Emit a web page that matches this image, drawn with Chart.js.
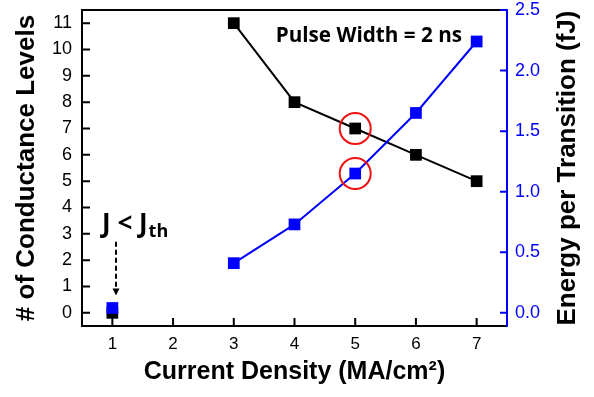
<!DOCTYPE html>
<html>
<head>
<meta charset="utf-8">
<script src="https://cdn.jsdelivr.net/npm/chart.js@4/dist/chart.umd.min.js"></script>
<style>
html,body{margin:0;padding:0;background:#fff;}
#wrap{width:594px;height:397px;}
</style>
</head>
<body>
<div id="wrap"><canvas id="c" width="594" height="397"></canvas></div>
<script>
// ---- data ----
const currentDensity = [1, 3, 4, 5, 6, 7];
const conductanceLevels = [0, 11, 8, 7, 6, 5];
const energyPerTransition = [0.04, 0.41, 0.73, 1.15, 1.65, 2.24];
const xTickValues = [1, 2, 3, 4, 5, 6, 7];
const yTickValues = [0, 1, 2, 3, 4, 5, 6, 7, 8, 9, 10, 11];
const y1TickValues = [0, 0.5, 1.0, 1.5, 2.0, 2.5];
const highlightX = 5;
const rightTitle = 'Energy per Transition (fJ)';

// build point lists with a gap between x=1 and x=3 (no connecting line)
function buildPoints(xs, ys) {
  const pts = [];
  xs.forEach((x, i) => {
    if (i > 0 && x - xs[i - 1] > 1) pts.push({x: (x + xs[i - 1]) / 2, y: null});
    pts.push({x: x, y: ys[i]});
  });
  return pts;
}

function noPad(s) { s.paddingTop = 0; s.paddingBottom = 0; s.paddingLeft = 0; s.paddingRight = 0; }

const BLUE = '#0000ff';
const decor = {
  id: 'decor',
  afterDatasetsDraw(chart) {
    const ctx = chart.ctx;
    const a = chart.chartArea;
    const sx = chart.scales.x, sy = chart.scales.y, sy1 = chart.scales.y1;
    ctx.save();
    // frame
    ctx.lineWidth = 2;
    ctx.strokeStyle = '#000';
    ctx.beginPath();
    ctx.moveTo(a.right, a.top); ctx.lineTo(a.left, a.top);
    ctx.lineTo(a.left, a.bottom); ctx.lineTo(a.right, a.bottom);
    ctx.stroke();
    ctx.strokeStyle = BLUE;
    ctx.beginPath(); ctx.moveTo(a.right, a.top - 1); ctx.lineTo(a.right, a.bottom + 1); ctx.stroke();
    // inward ticks
    ctx.strokeStyle = '#000';
    ctx.beginPath();
    yTickValues.forEach(v => { const p = sy.getPixelForValue(v); ctx.moveTo(a.left, p); ctx.lineTo(a.left + 8, p); });
    xTickValues.forEach(v => { const p = sx.getPixelForValue(v); ctx.moveTo(p, a.bottom); ctx.lineTo(p, a.bottom - 8); });
    ctx.stroke();
    ctx.strokeStyle = BLUE;
    ctx.beginPath();
    y1TickValues.forEach(v => { const p = sy1.getPixelForValue(v); ctx.moveTo(a.right, p); ctx.lineTo(a.right - 7, p); });
    ctx.stroke();
    // red circles
    const i5 = currentDensity.indexOf(highlightX);
    ctx.strokeStyle = '#ee1111';
    ctx.lineWidth = 2;
    const cx = sx.getPixelForValue(highlightX);
    [[sy, conductanceLevels[i5]], [sy1, energyPerTransition[i5]]].forEach(([s, v]) => {
      ctx.beginPath(); ctx.arc(cx, s.getPixelForValue(v), 15.5, 0, Math.PI * 2); ctx.stroke();
    });
    // annotation text
    ctx.fillStyle = '#000';
    ctx.textBaseline = 'alphabetic';
    ctx.textAlign = 'left';
    ctx.font = 'bold 20.7px "Open Sans"';
    ctx.fillText('Pulse Width = 2 ns', sx.getPixelForValue(3.69), sy.getPixelForValue(10.3));
    const jx = sx.getPixelForValue(0.83), jy = sy.getPixelForValue(3.07);
    ctx.font = 'bold 26px "Open Sans"';
    const s1 = 'J < J';
    ctx.fillText(s1, jx, jy);
    const w1 = ctx.measureText(s1).width;
    ctx.font = 'bold 18px "Open Sans"';
    ctx.fillText('th', jx + w1 + 1, jy + 5);
    // dashed arrow
    const ax = sx.getPixelForValue(1.06);
    ctx.strokeStyle = '#000';
    ctx.lineWidth = 2;
    ctx.setLineDash([5, 3]);
    ctx.beginPath(); ctx.moveTo(ax, sy.getPixelForValue(2.7)); ctx.lineTo(ax, sy.getPixelForValue(0.95)); ctx.stroke();
    ctx.setLineDash([]);
    const tip = sy.getPixelForValue(0.66);
    ctx.beginPath(); ctx.moveTo(ax - 3.5, tip - 7); ctx.lineTo(ax + 3.5, tip - 7); ctx.lineTo(ax, tip); ctx.closePath(); ctx.fill();
    // right axis title, reading bottom-to-top
    ctx.translate(sy1.right - 26, (a.top + a.bottom) / 2);
    ctx.rotate(-Math.PI / 2);
    ctx.textAlign = 'center';
    ctx.textBaseline = 'middle';
    ctx.font = 'bold 26px "Liberation Sans", Arial';
    ctx.fillText(rightTitle, 0, 0);
    ctx.restore();
  }
};

new Chart(document.getElementById('c'), {
  type: 'line',
  data: {
    datasets: [
      {
        label: 'Energy per Transition',
        data: buildPoints(currentDensity, energyPerTransition),
        yAxisID: 'y1',
        borderColor: BLUE, backgroundColor: BLUE,
        borderWidth: 2, pointStyle: 'rect', pointRadius: 8.3, pointBorderWidth: 0,
        spanGaps: false, tension: 0
      },
      {
        label: '# of Conductance Levels',
        data: buildPoints(currentDensity, conductanceLevels),
        yAxisID: 'y',
        borderColor: '#000', backgroundColor: '#000',
        borderWidth: 2, pointStyle: 'rect', pointRadius: 8.3, pointBorderWidth: 0,
        spanGaps: false, tension: 0
      }
    ]
  },
  options: {
    responsive: false, animation: false, devicePixelRatio: 1,
    layout: {padding: {top: 10, left: 0, right: 0, bottom: 0}, autoPadding: false},
    plugins: {legend: {display: false}, tooltip: {enabled: false}},
    scales: {
      x: {
        type: 'linear', min: 0.5, max: 7.5,
        afterBuildTicks: s => { s.ticks = xTickValues.map(v => ({value: v})); },
        afterFit: s => { s.height = 71; noPad(s); },
        grid: {display: false, drawTicks: false}, border: {display: false},
        ticks: {color: '#000', font: {family: '"Liberation Sans", Arial', size: 17}, padding: 8, maxRotation: 0},
        title: {display: true, text: 'Current Density (MA/cm²)', color: '#000',
          font: {family: '"Liberation Sans", Arial', size: 25, weight: 'bold', lineHeight: 1.2}, padding: {top: 0, bottom: 10}}
      },
      y: {
        position: 'left', min: -0.5, max: 11.5,
        afterBuildTicks: s => { s.ticks = yTickValues.map(v => ({value: v})); },
        afterFit: s => { s.width = 82; noPad(s); },
        grid: {display: false, drawTicks: false}, border: {display: false},
        ticks: {color: '#000', font: {family: '"Liberation Sans", Arial', size: 18}, padding: 10},
        title: {display: true, text: '# of Conductance Levels', color: '#000',
          font: {family: '"Liberation Sans", Arial', size: 26, weight: 'bold', lineHeight: 1.2}, padding: {top: 11, bottom: 0}}
      },
      y1: {
        position: 'right', min: -0.1087, max: 2.5,
        afterBuildTicks: s => { s.ticks = y1TickValues.map(v => ({value: v})); },
        afterFit: s => { s.width = 87; noPad(s); },
        grid: {display: false, drawTicks: false}, border: {display: false},
        ticks: {color: BLUE, font: {family: '"Liberation Sans", Arial', size: 18}, padding: 8,
          callback: v => Number(v).toFixed(1)},
        title: {display: false}
      }
    }
  },
  plugins: [decor]
});
</script>
</body>
</html>
